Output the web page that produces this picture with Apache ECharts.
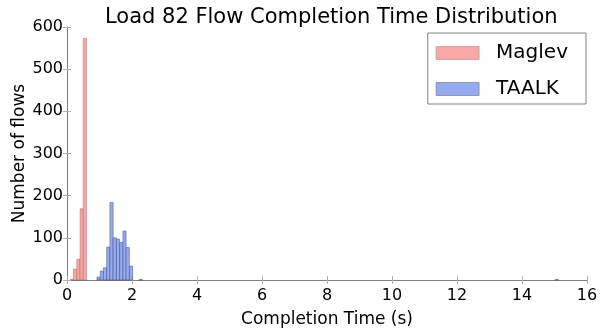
<!DOCTYPE html>
<html><head><meta charset="utf-8">
<script src="https://cdn.jsdelivr.net/npm/echarts@6/dist/echarts.min.js"></script>
<style>html,body{margin:0;padding:0;background:#fff}#c{width:605px;height:329px}</style>
</head><body><div id="c"></div>
<script>
const binWidth = 0.1;
const maglevBinStart = [0.1, 0.2, 0.3, 0.4, 0.5];
const maglevCounts   = [2, 26, 49, 169, 573];
const taalkBinStart  = [0.92, 1.02, 1.12, 1.22, 1.32, 1.42, 1.52, 1.62, 1.72, 1.82, 1.92, 2.22, 15.02];
const taalkCounts    = [7, 21, 29, 78, 184, 100, 97, 89, 116, 77, 33, 1, 1];
const xTicks = [0, 2, 4, 6, 8, 10, 12, 14, 16];
const yTicks = [0, 100, 200, 300, 400, 500, 600];

const FONT = 'DejaVu Sans';
const makeData = (starts, counts) => starts.map((s, i) => [s, s + binWidth, counts[i]]);
function renderBar(params, api) {
  const p0 = api.coord([api.value(0), api.value(2)]);
  const p1 = api.coord([api.value(1), 0]);
  return {type: 'rect', shape: {x: p0[0], y: p0[1], width: p1[0] - p0[0], height: p1[1] - p0[1]},
          style: api.style()};
}
const axisLineStyle = {lineStyle: {color: '#808080', width: 1}};
const tickStyle = {inside: true, length: 4, lineStyle: {color: '#b0b0b0'}};
const chart = echarts.init(document.getElementById('c'));
chart.setOption({
  animation: false,
  title: {text: 'Load 82 Flow Completion Time Distribution', left: 100, top: 2,
          textStyle: {fontFamily: FONT, fontSize: 21, fontWeight: 'normal', color: '#000'}},
  grid: {left: 67, right: 18, top: 27, bottom: 49, containLabel: false, outerBoundsMode: 'none'},
  legend: {
    orient: 'vertical', right: 19, top: 33, backgroundColor: '#fff', borderColor: '#808080', borderWidth: 1,
    padding: [9, 18, 4, 8], itemWidth: 43, itemHeight: 13, itemGap: 14,
    textStyle: {fontFamily: FONT, fontSize: 20, color: '#000', lineHeight: 22, padding: [0, 0, 0, 12]},
    data: [
      {name: 'Maglev', icon: 'rect', itemStyle: {color: '#f9a8a8', borderColor: '#c08080', borderWidth: 0.6}},
      {name: 'TAALK', icon: 'rect', itemStyle: {color: '#95abee', borderColor: '#6070a0', borderWidth: 0.6}}
    ]
  },
  xAxis: [
    {type: 'value', min: xTicks[0], max: xTicks[xTicks.length - 1], interval: 2, position: 'bottom',
     name: 'Completion Time (s)', nameLocation: 'middle', nameGap: 31, nameMoveOverlap: false,
     nameTextStyle: {fontFamily: FONT, fontSize: 17, color: '#000'},
     axisLine: axisLineStyle, axisTick: tickStyle, splitLine: {show: false},
     axisLabel: {fontFamily: FONT, fontSize: 16, color: '#000', margin: 8}},
    {type: 'value', min: xTicks[0], max: xTicks[xTicks.length - 1], interval: 2, position: 'top',
     axisLine: axisLineStyle, axisTick: tickStyle, splitLine: {show: false}, axisLabel: {show: false}}
  ],
  yAxis: [
    {type: 'value', min: yTicks[0], max: yTicks[yTicks.length - 1], interval: 100, position: 'left',
     name: 'Number of flows', nameLocation: 'middle', nameGap: 39, nameMoveOverlap: false,
     nameTextStyle: {fontFamily: FONT, fontSize: 17, color: '#000'},
     axisLine: {show: true, ...axisLineStyle}, axisTick: {show: true, ...tickStyle}, splitLine: {show: false},
     axisLabel: {fontFamily: FONT, fontSize: 16, color: '#000', margin: 4}},
    {type: 'value', min: yTicks[0], max: yTicks[yTicks.length - 1], interval: 100, position: 'right',
     axisLine: {show: true, ...axisLineStyle}, axisTick: {show: true, ...tickStyle}, splitLine: {show: false},
     axisLabel: {show: false}}
  ],
  series: [
    {name: 'Maglev', type: 'custom', renderItem: renderBar, encode: {x: [0, 1], y: 2},
     itemStyle: {color: '#f9a8a8', borderColor: 'rgba(150,60,60,0.5)', borderWidth: 0.7},
     data: makeData(maglevBinStart, maglevCounts)},
    {name: 'TAALK', type: 'custom', renderItem: renderBar, encode: {x: [0, 1], y: 2},
     itemStyle: {color: '#95abee', borderColor: 'rgba(40,50,120,0.6)', borderWidth: 0.7},
     data: makeData(taalkBinStart, taalkCounts)}
  ]
});
</script></body></html>
